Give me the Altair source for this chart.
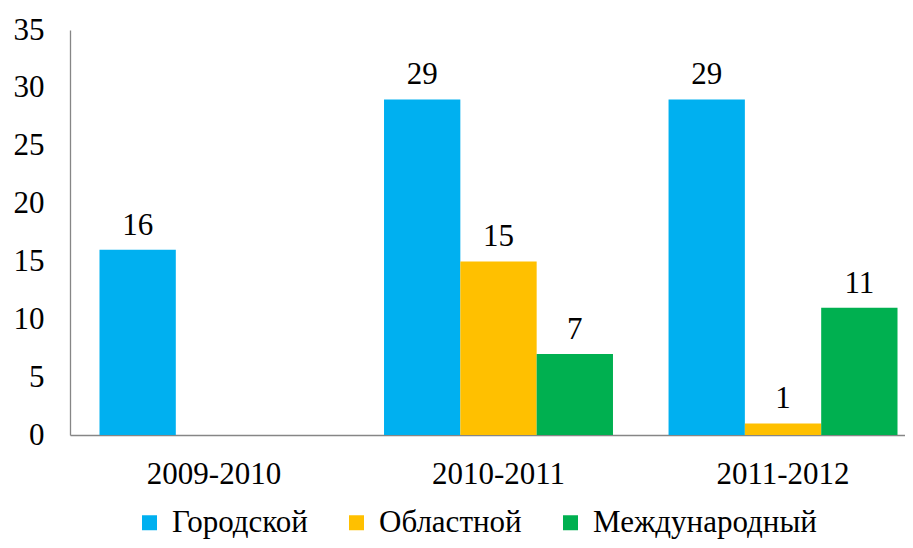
import altair as alt
import pandas as pd

seasons = ["2009-2010", "2010-2011", "2011-2012"]
series = ["Городской", "Областной", "Международный"]
city = [16, 29, 29]
region = [None, 15, 1]
intl = [None, 7, 11]
colors = ["#00B0F0", "#FFC000", "#00B050"]

rows = []
for name, vals in zip(series, [city, region, intl]):
    for s, v in zip(seasons, vals):
        if v is not None:
            rows.append({"season": s, "series": name, "value": v})
df = pd.DataFrame(rows)

FONT = "Liberation Serif, Times New Roman, serif"
AXIS_COLOR = "#868686"

x = alt.X(
    "season:N",
    sort=seasons,
    scale=alt.Scale(range=[0, 857], paddingInner=0, paddingOuter=0.006),
    axis=alt.Axis(
        title=None, labelAngle=0, ticks=False, tickSize=0, labelPadding=24,
        labelFontSize=31, labelFont=FONT, labelColor="black",
        domainColor=AXIS_COLOR, domainWidth=1.3,
    ),
)
xo = alt.XOffset("series:N", sort=series,
                 scale=alt.Scale(domain=series, paddingOuter=0.364, paddingInner=0))
y = alt.Y(
    "value:Q",
    scale=alt.Scale(domain=[0, 35], nice=False),
    axis=alt.Axis(
        title=None, values=[0, 5, 10, 15, 20, 25, 30, 35], grid=False,
        ticks=False, tickSize=0, labelPadding=26, labelFontSize=31,
        labelFont=FONT, labelColor="black", domainColor=AXIS_COLOR, domainWidth=1.3,
    ),
)
color = alt.Color(
    "series:N",
    sort=series,
    scale=alt.Scale(domain=series, range=colors),
    legend=alt.Legend(
        orient="none", legendX=64, legendY=477, direction="horizontal",
        title=None, symbolType="square", symbolSize=225, symbolStrokeWidth=0,
        labelFontSize=31, labelFont=FONT, labelColor="black", labelOffset=7,
        columnPadding=33, padding=0, labelLimit=400,
    ),
)

bars = alt.Chart(df).mark_bar().encode(x=x, xOffset=xo, y=y, color=color)
labels = alt.Chart(df).mark_text(
    dy=-15, baseline="alphabetic", fontSize=31, font=FONT, color="black"
).encode(x=x, xOffset=xo, y=y, text="value:Q")

chart = (
    alt.layer(bars, labels)
    .properties(
        width=835, height=405,
        autosize=alt.AutoSizeParams(type="none"),
        padding={"left": 62, "top": 22, "right": 0, "bottom": 105},
    )
    .configure(font=FONT)
    .configure_view(stroke=None)
)

chart.save("out.html", embed_options={"renderer": "svg", "actions": False})
